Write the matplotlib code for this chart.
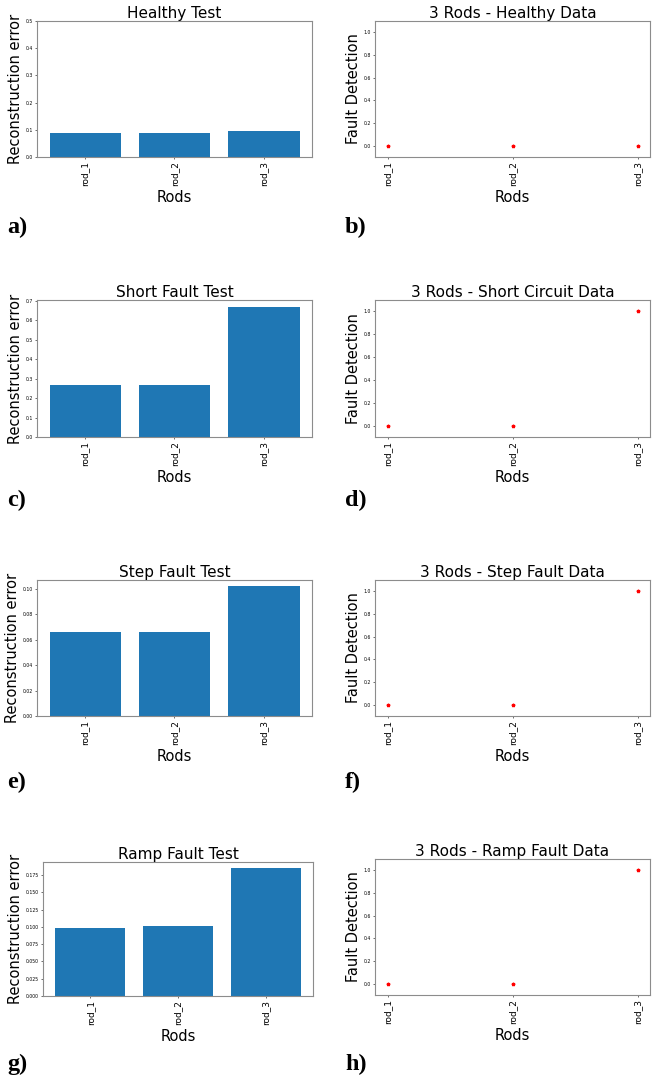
import numpy as np
import matplotlib
matplotlib.use("Agg")
import matplotlib.pyplot as plt

# rods and results for each test
rods = ["rod_1", "rod_2", "rod_3"]

healthy_err = [0.087, 0.088, 0.094]
short_err = [0.268, 0.268, 0.671]
step_err = [0.0661, 0.0659, 0.1019]
ramp_err = [0.0981, 0.1010, 0.1847]

healthy_det = [0, 0, 0]
short_det = [0, 0, 1]
step_det = [0, 0, 1]
ramp_det = [0, 0, 1]

bar_titles = ["Healthy Test", "Short Fault Test", "Step Fault Test", "Ramp Fault Test"]
det_titles = ["3 Rods - Healthy Data", "3 Rods - Short Circuit Data",
              "3 Rods - Step Fault Data", "3 Rods - Ramp Fault Data"]
panel_letters = ["a)", "b)", "c)", "d)", "e)", "f)", "g)", "h)"]

W, H = 653, 1088
fig = plt.figure(figsize=(W / 100, H / 100), dpi=100)

def px_axes(x0, y0, x1, y1):
    # pixel box (top-left origin) -> figure fraction
    return fig.add_axes([x0 / W, 1 - y1 / H, (x1 - x0) / W, (y1 - y0) / H])

def style(ax, title, ylabel):
    ax.set_title(title, fontsize=11, pad=2)
    ax.set_xlabel("Rods", fontsize=10.5, labelpad=2.5)
    ax.set_ylabel(ylabel, fontsize=10.5, labelpad=2)
    ax.tick_params(axis="y", labelsize=3.3, length=1.5, width=0.4, pad=1.5)
    ax.tick_params(axis="x", labelsize=6.5, length=1.5, width=0.4, pad=1.5, labelrotation=90)
    for sp in ax.spines.values():
        sp.set_color("#8c8c8c")
        sp.set_linewidth(0.8)

bar_boxes = [(37, 21, 312, 157), (37, 300, 312, 437), (37, 580, 312, 716), (43, 862, 313, 996)]
det_boxes = [(375, 21, 650, 157), (375, 300, 650, 437), (375, 580, 650, 716), (375, 859, 650, 995)]

bar_data = [healthy_err, short_err, step_err, ramp_err]
det_data = [healthy_det, short_det, step_det, ramp_det]

for i in range(4):
    ax = px_axes(*bar_boxes[i])
    ax.bar(rods, bar_data[i], color="#1f77b4")
    if i == 0:
        ax.set_ylim(0, 0.5)
    style(ax, bar_titles[i], "Reconstruction error")

    ax2 = px_axes(*det_boxes[i])
    ax2.plot(rods, det_data[i], "r*", markersize=2.5, linestyle="none")
    ax2.set_ylim(-0.1, 1.1)
    style(ax2, det_titles[i], "Fault Detection")

# panel letters
label_y = [227, 500, 782, 1064]
for i in range(4):
    fig.text(7 / W, 1 - label_y[i] / H, panel_letters[2 * i], fontsize=17.5,
             fontweight="bold", family="Liberation Serif", va="center", ha="left")
    fig.text(345 / W, 1 - label_y[i] / H, panel_letters[2 * i + 1], fontsize=17.5,
             fontweight="bold", family="Liberation Serif", va="center", ha="left")

fig.savefig("out.png", dpi=100)
